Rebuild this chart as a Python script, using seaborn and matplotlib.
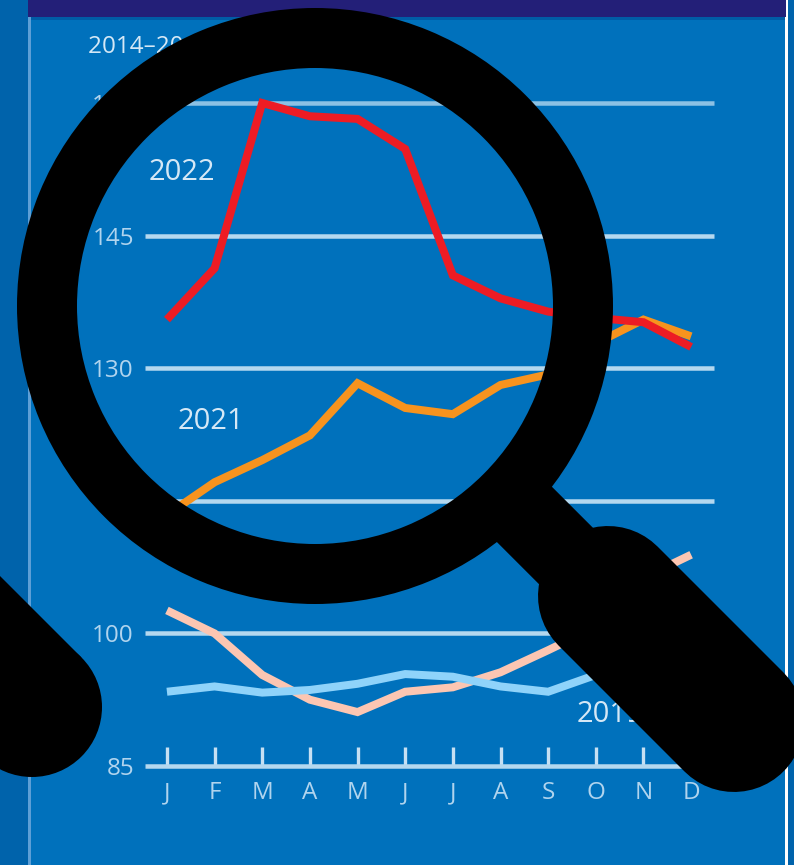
import matplotlib.pyplot as plt
import pandas as pd
import seaborn as sns
from matplotlib.patches import Circle, Polygon, Rectangle, Wedge

months = ['J', 'F', 'M', 'A', 'M', 'J', 'J', 'A', 'S', 'O', 'N', 'D']
y_ticks = [85, 100, 115, 130, 145, 160]

values_2019 = [93.4, 94.0, 93.3, 93.6, 94.3, 95.4, 95.1, 94.0, 93.4, 95.3, 96.0, 97.0]
values_2020 = [102.6, 100.0, 95.3, 92.5, 91.1, 93.4, 93.9, 95.6, 98.1, 100.7, 106.3, 108.9]
values_2021 = [113.4, 117.1, 119.6, 122.4, 128.3, 125.5, 124.8, 128.1, 129.3, 132.8, 135.5, 133.6]
values_2022 = [135.5, 141.3, 160.0, 158.5, 158.2, 154.8, 140.5, 137.9, 136.4, 135.7, 135.2, 132.4]

W, H = 794, 865
PX = 0.72  # points per pixel at dpi 100

PANEL = '#0071bc'
TEXT = '#b0d4ee'

sns.set_theme(style='white')
plt.rcParams['font.family'] = ['Open Sans', 'DejaVu Sans']

fig = plt.figure(figsize=(W / 100, H / 100), dpi=100, facecolor='#0063ab')

# page background, in pixels
bg = fig.add_axes([0, 0, 1, 1], zorder=0)
bg.set_xlim(0, W)
bg.set_ylim(H, 0)
bg.axis('off')
bg.add_patch(Rectangle((28, 0), 758, H, color=PANEL, lw=0))
bg.add_patch(Rectangle((28, 0), 3, H, color='#5d9fd6', lw=0))
bg.add_patch(Rectangle((785, 0), 3, H, color='white', lw=0))
bg.add_patch(Rectangle((31, 17), 754, 3, color='#005ca6', lw=0))
bg.add_patch(Rectangle((28, 0), 758, 17, color='#231f78', lw=0))

# chart
ax = fig.add_axes([145 / W, (H - 766) / H, 569 / W, 663 / H], zorder=1)
ax.patch.set_alpha(0)

rows = []
for year, vals in [('2020', values_2020), ('2019', values_2019),
                   ('2021', values_2021), ('2022', values_2022)]:
    for i, v in enumerate(vals):
        rows.append({'month': i, 'value': v, 'year': year})
df = pd.DataFrame(rows)

palette = {'2019': '#8fd3fa', '2020': '#fcc6b2', '2021': '#f7931e', '2022': '#ed1c24'}
sns.lineplot(data=df, x='month', y='value', hue='year', hue_order=['2020', '2019', '2021', '2022'],
             palette=palette, lw=8 * PX, legend=False, ax=ax, zorder=3,
             solid_joinstyle='miter', solid_capstyle='butt')
for line in ax.get_lines():
    line.set_clip_on(False)

ax.set_xlim(-0.46, 11.48)
ax.set_ylim(85, 160)
ax.set_xlabel('')
ax.set_ylabel('')
sns.despine(ax=ax, left=True, bottom=True, right=True, top=True)

ax.set_yticks(y_ticks)
ax.set_xticks(range(12))
ax.set_xticklabels(months)
ax.grid(axis='y', color='#b4d8ef', lw=4.5 * PX)
ax.set_axisbelow(True)
for gl in ax.get_ygridlines():
    gl.set_clip_on(False)
    gl.set_solid_capstyle('butt')
ax.get_ygridlines()[-1].set_color('#8cc1e4')

ax.tick_params(axis='y', length=0, pad=8, labelsize=17.5, labelcolor=TEXT)
ax.tick_params(axis='x', direction='in', bottom=True, length=14, width=2.4, color='#c6e0f3',
               pad=11, labelsize=17.5, labelcolor=TEXT)

# text on the chart
for label, x, y, size in [('2014–2016 = 100', 88, 47, 17.5), ('2022', 182, 172, 21),
                          ('2021', 211, 421, 21), ('2019', 577, 714, 21)]:
    ha = 'center' if label in ('2022', '2021') else 'left'
    fig.text(x / W, 1 - y / H, label, color='#d5e8f6', fontsize=size, ha=ha, va='center', zorder=2)

# magnifying glass shapes on top, in pixels
over = fig.add_axes([0, 0, 1, 1], zorder=5)
over.set_xlim(0, W)
over.set_ylim(H, 0)
over.axis('off')
over.patch.set_alpha(0)
over.add_patch(Wedge((315, 306), 298, 0, 360, width=60, color='black', lw=0))
over.plot([520, 608], [510, 598], color='black', lw=78 * PX, solid_capstyle='butt')
over.plot([608, 734], [596, 722], color='black', lw=140 * PX, solid_capstyle='round')
# left handle runs off the page, so no round-capped line here
over.add_patch(Circle((32, 707), 70, color='black', lw=0))
over.add_patch(Polygon([(81.5, 657.5), (-17.5, 756.5), (-117.5, 656.5), (-18.5, 557.5)], color='black', lw=0))

fig.savefig('out.png', dpi=100, facecolor=fig.get_facecolor())
